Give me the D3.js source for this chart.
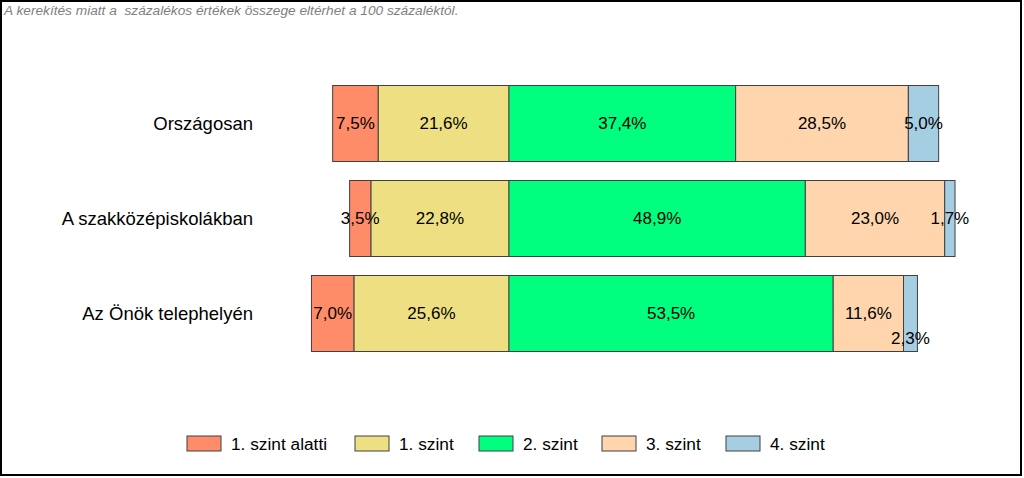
<!DOCTYPE html>
<html><head><meta charset="utf-8">
<script src="https://cdn.jsdelivr.net/npm/d3@7"></script>
<style>body{margin:0;background:#fff}svg{display:block}text{font-family:"Liberation Sans",Arial,sans-serif}</style>
</head><body>
<svg id="c" width="1024" height="478"></svg>
<script>
const categories = ["Országosan", "A szakközépiskolákban", "Az Önök telephelyén"];
const seriesNames = ["1. szint alatti", "1. szint", "2. szint", "3. szint", "4. szint"];
const belowLevel1 = [7.5, 3.5, 7.0];
const level1 = [21.6, 22.8, 25.6];
const level2 = [37.4, 48.9, 53.5];
const level3 = [28.5, 23.0, 11.6];
const level4 = [5.0, 1.7, 2.3];
const colors = ["#FF8C69", "#EEE082", "#00FF7F", "#FFD5AE", "#A6CEE3"];
const note = "A kerekítés miatt a  százalékos értékek összege eltérhet a 100 százaléktól.";

const series = [belowLevel1, level1, level2, level3, level4];
const svg = d3.select("#c");

// frame
svg.append("rect").attr("x",1).attr("y",1).attr("width",1020).attr("height",474)
  .attr("fill","none").attr("stroke","#000").attr("stroke-width",2);

svg.append("text").attr("x",4).attr("y",15).attr("fill","#808080")
  .attr("font-size","13.7px").attr("font-style","italic")
  .style("white-space","pre").text(note);

const x = d3.scaleLinear().domain([-40, 80]).range([509 - 40*6.06, 509 + 80*6.06]);
const y = d3.scaleBand().domain(categories).range([76, 361]).paddingInner(0.2).paddingOuter(0.1);

// build diverging segments
const segs = [];
categories.forEach((c, i) => {
  let left = 0;
  for (let s = 1; s >= 0; s--) {
    const v = series[s][i];
    segs.push({c, s, v, x0: left - v, x1: left});
    left -= v;
  }
  let right = 0;
  for (let s = 2; s < 5; s++) {
    const v = series[s][i];
    segs.push({c, s, v, x0: right, x1: right + v});
    right += v;
  }
});

const g = svg.append("g");
g.selectAll("rect").data(segs).join("rect")
  .attr("x", d => x(d.x0)).attr("width", d => x(d.x1) - x(d.x0))
  .attr("y", d => y(d.c)).attr("height", y.bandwidth())
  .attr("fill", d => colors[d.s]).attr("stroke", "#404040").attr("stroke-width", 1);

g.selectAll("text.v").data(segs).join("text").attr("class","v")
  .attr("x", d => (x(d.x0) + x(d.x1)) / 2)
  .attr("y", d => y(d.c) + y.bandwidth()/2 + ((d.c === categories[2] && d.s === 4) ? 25 : 0))
  .attr("text-anchor","middle").attr("dominant-baseline","central")
  .attr("font-size","17px").attr("fill","#000")
  .text(d => d.v.toFixed(1).replace(".", ",") + "%");

svg.selectAll("text.cat").data(categories).join("text").attr("class","cat")
  .attr("x", 253).attr("y", d => y(d) + y.bandwidth()/2)
  .attr("text-anchor","end").attr("dominant-baseline","central")
  .attr("font-size","18.5px").attr("fill","#000").text(d => d);

// legend
const legX = [187, 355, 479, 602, 726];
const lg = svg.selectAll("g.leg").data(seriesNames).join("g").attr("class","leg")
  .attr("transform", (d,i) => `translate(${legX[i]},436)`);
lg.append("rect").attr("width",34).attr("height",15)
  .attr("fill", (d,i) => colors[i]).attr("stroke","#404040");
lg.append("text").attr("x",44).attr("y",8).attr("dominant-baseline","central")
  .attr("font-size","17.3px").text(d => d);
</script>
</body></html>
